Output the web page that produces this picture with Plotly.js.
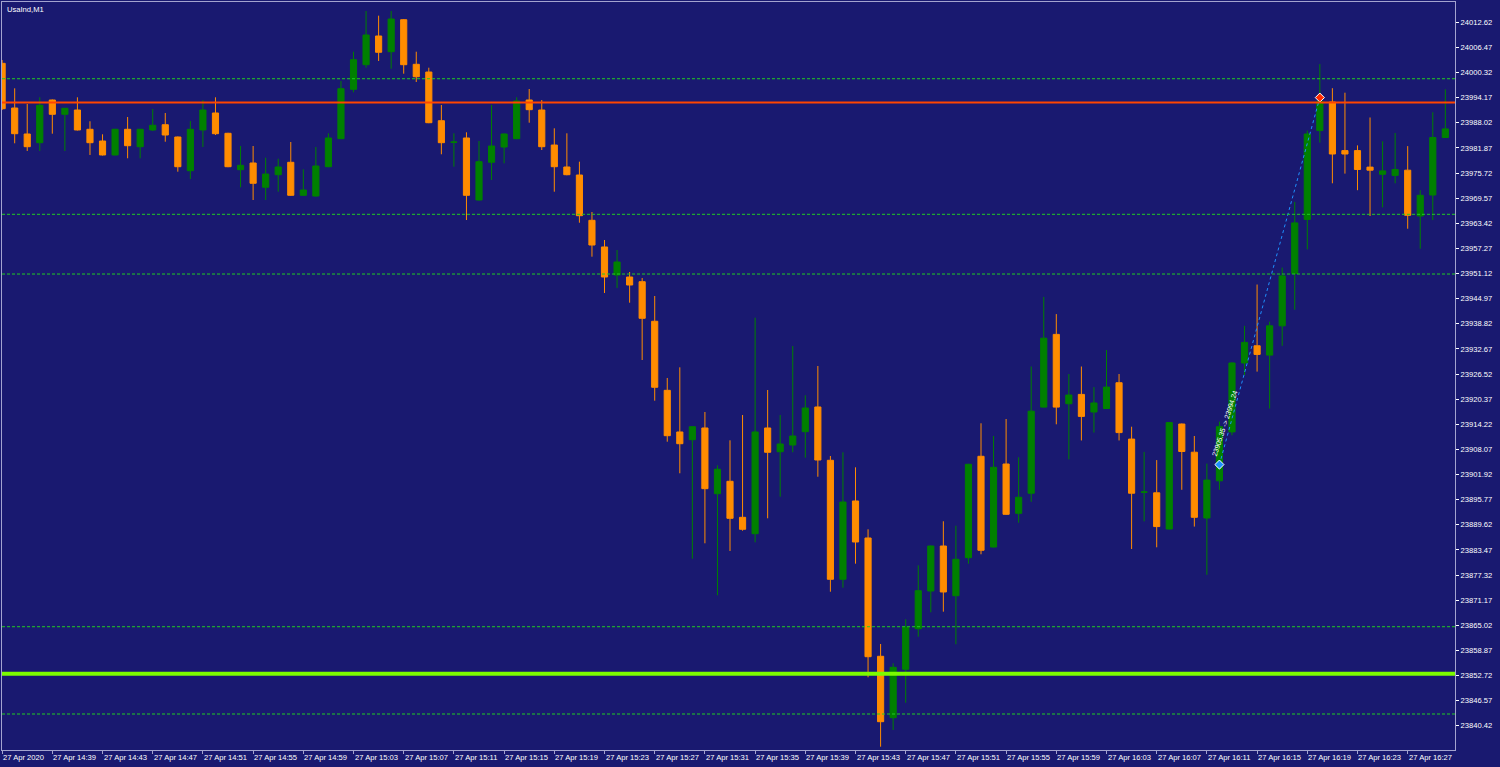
<!DOCTYPE html>
<html>
<head>
<meta charset="utf-8">
<script src="https://cdn.plot.ly/plotly-3.0.1.min.js"></script>
<style>
html,body{margin:0;padding:0;background:#191970;}
#chart{width:1500px;height:767px;}
</style>
</head>
<body>
<div id="chart"></div>
<script>
// ---- data (UsaInd, M1, 27 Apr 2020) ----
var times = [
"14:35","14:36","14:37","14:38","14:39","14:40","14:41","14:42","14:43","14:44","14:45","14:46","14:47","14:48","14:49","14:50","14:51","14:52","14:53","14:54","14:55","14:56","14:57","14:58","14:59",
"15:00","15:01","15:02","15:03","15:04","15:05","15:06","15:07","15:08","15:09","15:10","15:11","15:12","15:13","15:14","15:15","15:16","15:17","15:18","15:19","15:20","15:21","15:22","15:23","15:24",
"15:25","15:26","15:27","15:28","15:29","15:30","15:31","15:32","15:33","15:34","15:35","15:36","15:37","15:38","15:39","15:40","15:41","15:42","15:43","15:44","15:45","15:46","15:47","15:48","15:49",
"15:50","15:51","15:52","15:53","15:54","15:55","15:56","15:57","15:58","15:59","16:00","16:01","16:02","16:03","16:04","16:05","16:06","16:07","16:08","16:09","16:10","16:11","16:12","16:13","16:14",
"16:15","16:16","16:17","16:18","16:19","16:20","16:21","16:22","16:23","16:24","16:25","16:26","16:27","16:28","16:29","16:30"];

var open = [
24002.58,23991.64,23985.28,23983.15,23993.60,23990.10,23991.15,23986.43,23983.56,23980.14,
23986.43,23982.17,23986.26,23987.55,23984.54,23976.29,23986.26,23990.42,23985.45,23976.54,
23978.18,23972.23,23975.31,23978.35,23970.27,23970.10,23977.27,23984.13,23996.22,24002.24,
24009.27,24005.42,24013.26,24002.34,24000.45,23988.53,23983.24,23984.30,23969.12,23978.35,
23982.09,23984.13,23993.60,23991.15,23982.58,23977.20,23975.24,23964.15,23957.62,23950.76,
23950.27,23949.12,23939.43,23922.53,23912.33,23910.44,23913.31,23897.22,23900.26,23891.44,
23887.43,23913.31,23907.50,23909.14,23912.40,23918.45,23905.40,23876.27,23895.44,23886.38,
23857.42,23842.39,23854.24,23864.17,23873.40,23884.42,23872.25,23881.56,23906.38,23884.17,
23904.49,23892.42,23897.34,23918.42,23936.22,23919.25,23921.53,23917.22,23918.08,23924.39,
23910.59,23897.59,23897.44,23888.58,23914.28,23907.38,23891.27,23900.38,23912.35,23929.22,
23933.43,23931.15,23938.32,23951.13,23964.37,23986.11,23993.11,23981.21,23981.21,23977.17,
23975.41,23975.14,23976.42,23965.20,23970.34,23984.42];

var high = [
24003.39,23996.46,23992.62,23994.26,23993.72,23991.64,23994.26,23988.39,23985.20,23986.55,
23989.44,23986.55,23991.40,23990.42,23984.66,23988.46,23993.60,23994.26,23985.57,23982.34,
23982.34,23979.48,23979.23,23983.32,23976.64,23982.09,23985.45,23998.25,24005.42,24015.39,
24014.24,24015.39,24013.43,24005.42,24001.51,23992.38,23985.45,23985.69,23983.56,23992.38,
23985.40,23994.26,23996.29,23993.60,23986.67,23985.45,23978.50,23966.18,23959.33,23956.88,
23951.49,23950.03,23945.62,23925.55,23928.16,23913.74,23917.22,23904.17,23910.29,23916.49,
23940.31,23922.61,23916.49,23933.38,23921.31,23928.48,23906.45,23907.36,23903.68,23888.51,
23860.43,23855.70,23866.48,23879.69,23884.54,23890.47,23889.39,23904.54,23914.46,23911.35,
23915.51,23906.13,23928.36,23945.40,23941.19,23926.52,23928.36,23923.32,23932.40,23926.52,
23913.62,23907.45,23905.45,23914.75,23914.40,23911.35,23904.59,23914.87,23929.39,23938.32,
23948.43,23939.33,23952.57,23968.65,23986.11,24002.39,23996.49,23995.39,23982.49,23989.32,
23983.49,23985.52,23982.31,23971.52,23990.59,23996.22];

var low = [
23991.15,23983.00,23981.12,23981.12,23985.35,23981.12,23986.13,23980.14,23980.01,23980.01,
23979.33,23979.33,23986.01,23983.39,23976.05,23974.26,23982.09,23985.03,23977.15,23972.23,
23969.12,23969.12,23971.15,23970.15,23970.15,23969.93,23977.15,23984.01,23995.48,24001.51,
24003.15,24001.26,24000.04,23998.01,23987.92,23980.31,23977.27,23964.22,23968.95,23974.02,
23978.10,23984.01,23988.04,23981.36,23971.15,23975.17,23963.56,23955.24,23946.35,23947.58,
23943.98,23929.95,23919.99,23909.95,23902.22,23881.31,23885.08,23872.35,23883.20,23888.16,
23885.32,23891.20,23896.49,23907.36,23906.04,23901.38,23873.23,23874.21,23880.09,23852.28,
23835.29,23839.38,23846.06,23862.22,23868.19,23868.34,23860.36,23880.09,23882.39,23884.05,
23892.06,23890.12,23895.24,23918.30,23914.21,23905.62,23910.25,23912.18,23917.96,23910.25,
23883.68,23890.44,23884.10,23888.46,23898.18,23889.17,23877.37,23898.18,23911.52,23926.26,
23927.11,23918.08,23933.43,23942.27,23957.03,23983.17,23973.21,23975.58,23971.52,23965.20,
23967.31,23973.21,23962.09,23957.20,23964.20,23984.30];

var close = [
23991.47,23985.35,23982.17,23992.30,23990.10,23991.57,23986.26,23983.15,23980.14,23986.43,
23982.41,23986.43,23987.41,23985.03,23977.27,23986.43,23991.15,23985.35,23977.27,23977.61,
23973.21,23975.48,23977.20,23970.27,23971.57,23977.44,23984.30,23996.37,24003.47,24009.51,
24005.28,24013.43,24002.24,23999.30,23988.04,23983.15,23983.30,23970.27,23978.50,23982.34,
23985.28,23993.36,23991.23,23982.17,23977.27,23975.31,23965.28,23958.10,23950.27,23953.94,
23948.31,23940.16,23923.27,23911.42,23909.46,23913.62,23898.45,23903.20,23891.20,23888.51,
23912.33,23907.36,23909.39,23911.35,23918.20,23905.47,23876.27,23895.19,23885.40,23857.32,
23841.41,23854.72,23864.52,23873.48,23884.42,23873.16,23881.16,23904.42,23883.37,23903.68,
23892.18,23896.34,23917.42,23935.29,23918.42,23921.38,23916.15,23919.43,23923.32,23912.18,
23897.34,23897.64,23889.17,23914.63,23907.55,23891.44,23900.55,23913.62,23929.22,23934.26,
23931.32,23938.32,23950.54,23963.51,23985.28,23993.28,23980.38,23980.38,23976.59,23976.42,
23976.24,23976.59,23965.37,23970.27,23984.42,23986.53];

// axis ticks
var yTicks = [23840.42,23846.57,23852.72,23858.87,23865.02,23871.17,23877.32,23883.47,23889.62,23895.77,
23901.92,23908.07,23914.22,23920.37,23926.52,23932.67,23938.82,23944.97,23951.12,23957.27,
23963.42,23969.57,23975.72,23981.87,23988.02,23994.17,24000.32,24006.47,24012.62];
var xTickTimes = ["14:35","14:39","14:43","14:47","14:51","14:55","14:59","15:03","15:07","15:11","15:15",
"15:19","15:23","15:27","15:31","15:35","15:39","15:43","15:47","15:51","15:55","15:59","16:03","16:07",
"16:11","16:15","16:19","16:23","16:27"];
var xTickLabels = ["27 Apr 2020","27 Apr 14:39","27 Apr 14:43","27 Apr 14:47","27 Apr 14:51","27 Apr 14:55",
"27 Apr 14:59","27 Apr 15:03","27 Apr 15:07","27 Apr 15:11","27 Apr 15:15","27 Apr 15:19","27 Apr 15:23",
"27 Apr 15:27","27 Apr 15:31","27 Apr 15:35","27 Apr 15:39","27 Apr 15:43","27 Apr 15:47","27 Apr 15:51",
"27 Apr 15:55","27 Apr 15:59","27 Apr 16:03","27 Apr 16:07","27 Apr 16:11","27 Apr 16:15","27 Apr 16:19",
"27 Apr 16:23","27 Apr 16:27"];

// horizontal levels
var dottedLevels = [23998.81, 23965.62, 23951.00, 23864.66, 23843.29];
var redLevel = 23992.96;
var limeLevel = 23853.13;

// trade (open -> close)
var tradeTimes = ["16:12","16:20"];
var tradePrices = [23904.35, 23994.19];
var tradeText = "23905.35 -> 23994.24";

var chartTitle = "UsaInd,M1";

// ---- styling ----
var BG = "#191970";
var FRAME = "#a3a3cf";
var GREEN = "#008000";
var ORANGE = "#ff8c00";
var FONT = {family: "Liberation Sans, Arial, sans-serif", size: 7.6, color: "#ffffff"};

var candles = {
  type: "candlestick",
  x: times, open: open, high: high, low: low, close: close,
  increasing: {line: {color: GREEN, width: 1}, fillcolor: GREEN},
  decreasing: {line: {color: ORANGE, width: 1}, fillcolor: ORANGE},
  whiskerwidth: 0,
  hoverinfo: "skip",
  showlegend: false
};

var tradeLine = {
  type: "scatter", mode: "lines",
  x: tradeTimes, y: tradePrices,
  line: {color: "#1e90ff", width: 1, dash: "dot"},
  hoverinfo: "skip", showlegend: false
};
var tradeMarks = {
  type: "scatter", mode: "markers",
  x: tradeTimes, y: tradePrices,
  marker: {symbol: "diamond", size: 7, color: ["#1e90ff", "#ff2a00"], line: {color: "#ffffff", width: 1}},
  hoverinfo: "skip", showlegend: false
};

var shapes = [];
dottedLevels.forEach(function (v) {
  shapes.push({type: "line", xref: "paper", x0: 0, x1: 1, yref: "y", y0: v, y1: v,
    line: {color: "#22cc22", width: 1, dash: "3px,2px"}, layer: "above"});
});
shapes.push({type: "line", xref: "paper", x0: 0, x1: 1, yref: "y", y0: redLevel, y1: redLevel,
  line: {color: "#ff4500", width: 2}, layer: "above"});
shapes.push({type: "line", xref: "paper", x0: 0, x1: 1, yref: "y", y0: limeLevel, y1: limeLevel,
  line: {color: "#7cfc00", width: 4}, layer: "above"});

// time labels, left-aligned at their tick (as in the terminal)
var annotations = xTickTimes.map(function (t, k) {
  return {text: xTickLabels[k], xref: "x", yref: "paper", x: t, y: 0, xanchor: "left", yanchor: "top",
    xshift: -1, yshift: -1, showarrow: false, font: FONT};
});
annotations.push({text: chartTitle, xref: "paper", yref: "paper", x: 0.002, y: 0.999, xanchor: "left", yanchor: "top",
  showarrow: false, font: FONT});
annotations.push({text: tradeText, xref: "x", yref: "y", x: "16:12", y: 23914.5, xanchor: "center", yanchor: "middle",
  xshift: 5, textangle: -72, showarrow: false, font: {family: FONT.family, size: 7, color: "#ffffff"}});

var layout = {
  width: 1500, height: 767,
  margin: {l: 2, r: 45, t: 2, b: 17, pad: 0},
  paper_bgcolor: BG, plot_bgcolor: BG,
  font: FONT,
  showlegend: false,
  hovermode: false,
  dragmode: false,
  xaxis: {
    type: "category",
    range: [-0.01, 115.77],
    rangeslider: {visible: false},
    showgrid: false, zeroline: false,
    showline: true, linecolor: FRAME, linewidth: 1, mirror: true,
    tickmode: "array", tickvals: xTickTimes, showticklabels: false,
    ticks: "outside", ticklen: 3, tickcolor: FRAME, tickwidth: 1,
    fixedrange: true
  },
  yaxis: {
    side: "right",
    range: [23834.48, 24017.59],
    showgrid: false, zeroline: false,
    showline: true, linecolor: FRAME, linewidth: 1, mirror: true,
    tickmode: "array", tickvals: yTicks,
    ticktext: yTicks.map(function (v) { return v.toFixed(2); }),
    ticks: "outside", ticklen: 3, tickcolor: "#ffffff", tickwidth: 1,
    tickfont: FONT, fixedrange: true
  },
  shapes: shapes,
  annotations: annotations
};

Plotly.newPlot("chart", [candles, tradeLine, tradeMarks], layout, {staticPlot: true, displayModeBar: false});
</script>
</body>
</html>
